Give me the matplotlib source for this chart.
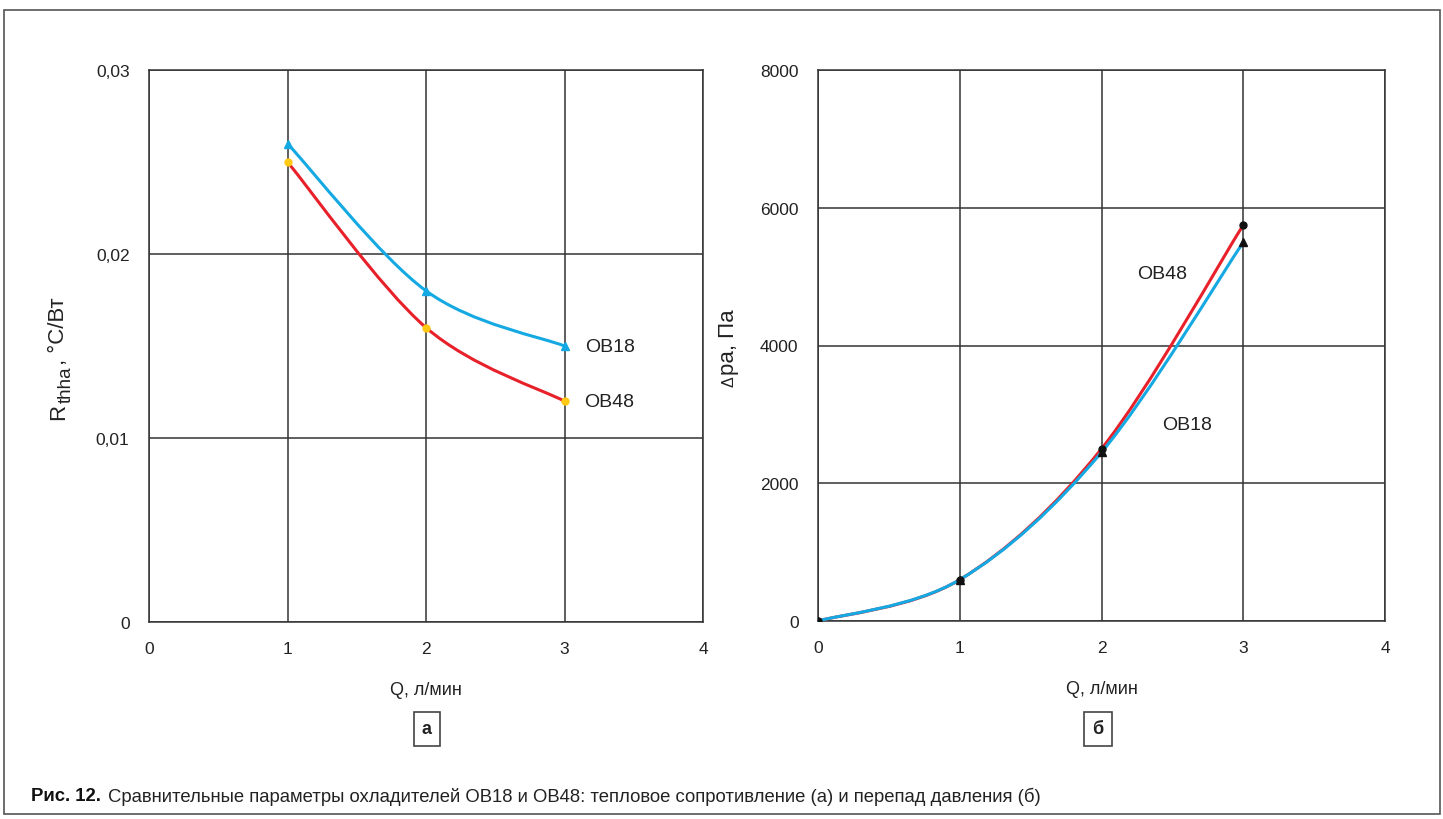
import numpy as np
import matplotlib
matplotlib.use('Agg')
import matplotlib.pyplot as plt
from matplotlib.path import Path
from matplotlib.patches import PathPatch, Rectangle
from matplotlib.transforms import IdentityTransform

plt.rcParams['font.family'] = ['Liberation Sans', 'DejaVu Sans']

# --- data, panel a: thermal resistance ---
q_a = [1, 2, 3]
rth_ob18 = [0.026, 0.018, 0.015]
rth_ob48 = [0.025, 0.016, 0.012]

# --- data, panel b: pressure drop ---
q_b = [0, 1, 2, 3]
dp_ob48 = [0, 600, 2500, 5750]
dp_ob18 = [0, 600, 2450, 5500]

x_ticks = [0, 1, 2, 3, 4]
ya_ticks = [0, 0.01, 0.02, 0.03]
ya_labels = ['0', '0,01', '0,02', '0,03']
yb_ticks = [0, 2000, 4000, 6000, 8000]

BLUE = '#14a9e2'
RED = '#e8202a'
YELLOW = '#ffc914'
GRID = '#333333'
TXT = '#222222'

W, H = 1443, 820


def smooth_path(x, y):
    """Bezier path through the points, Excel-style smoothing (tangent/6)."""
    x = np.asarray(x, float)
    y = np.asarray(y, float)
    n = len(x)
    verts = [(x[0], y[0])]
    codes = [Path.MOVETO]
    for i in range(n - 1):
        i0 = max(i - 1, 0)
        i3 = min(i + 2, n - 1)
        c1 = (x[i] + (x[i + 1] - x[i0]) / 6, y[i] + (y[i + 1] - y[i0]) / 6)
        c2 = (x[i + 1] - (x[i3] - x[i]) / 6, y[i + 1] - (y[i3] - y[i]) / 6)
        verts += [c1, c2, (x[i + 1], y[i + 1])]
        codes += [Path.CURVE4] * 3
    return Path(verts, codes)


def style_axes(ax):
    ax.set_xlim(0, 4)
    ax.set_xticks(x_ticks)
    ax.grid(True, color=GRID, linewidth=1.1)
    ax.set_axisbelow(True)
    ax.tick_params(length=0, labelsize=12.5, pad=14, colors=TXT)
    for s in ax.spines.values():
        s.set_color(GRID)
        s.set_linewidth(1.1)
    ax.set_xlabel('Q, л/мин', fontsize=13, labelpad=18, color=TXT)


def rotated_label(fig, x_base, y_bottom, parts):
    """Vertical label made of pieces (text, size, shift right in px).
    x_base / y_bottom are image pixels (y from top)."""
    renderer = fig.canvas.get_renderer()
    y = H - y_bottom
    for txt, size, shift in parts:
        t = fig.text(x_base + shift, y, txt, transform=IdentityTransform(),
                     rotation=90, rotation_mode='anchor', ha='left',
                     va='baseline', fontsize=size, color=TXT)
        y = t.get_window_extent(renderer).y1 + 1


fig = plt.figure(figsize=(W / 100, H / 100), dpi=100)

# outer frame
fig.patches.append(Rectangle((4 / W, 5 / H), 1436 / W, 804 / H,
                             transform=fig.transFigure, fill=False,
                             edgecolor='#555555', linewidth=1.2))

# ---- panel a ----
ax1 = fig.add_axes([149 / W, 1 - 623 / H, 554 / W, 552 / H])
ax1.add_patch(PathPatch(smooth_path(q_a, rth_ob18), fill=False,
                        edgecolor=BLUE, linewidth=2.2, zorder=3))
ax1.add_patch(PathPatch(smooth_path(q_a, rth_ob48), fill=False,
                        edgecolor=RED, linewidth=2.2, zorder=3))
ax1.plot(q_a, rth_ob18, linestyle='none', marker='^', color=BLUE,
         markersize=6, zorder=4)
ax1.plot(q_a, rth_ob48, linestyle='none', marker='o', color=YELLOW,
         markersize=5, zorder=4)
ax1.set_ylim(0, 0.03)
ax1.set_yticks(ya_ticks)
ax1.set_yticklabels(ya_labels)
style_axes(ax1)
ax1.text(3.15, rth_ob18[-1], 'OB18', fontsize=14, va='center', ha='left',
         color=TXT)
ax1.text(3.14, rth_ob48[-1], 'OB48', fontsize=14, va='center', ha='left',
         color=TXT)

# ---- panel b ----
ax2 = fig.add_axes([818 / W, 1 - 622 / H, 567 / W, 551 / H])
ax2.add_patch(PathPatch(smooth_path(q_b, dp_ob48), fill=False,
                        edgecolor=RED, linewidth=2.2, zorder=3))
ax2.add_patch(PathPatch(smooth_path(q_b, dp_ob18), fill=False,
                        edgecolor=BLUE, linewidth=2.2, zorder=3))
ax2.plot(q_b, dp_ob48, linestyle='none', marker='o', color='#111111',
         markersize=5, zorder=4)
ax2.plot(q_b, dp_ob18, linestyle='none', marker='^', color='#111111',
         markersize=5.5, zorder=4)
ax2.set_ylim(0, 8000)
ax2.set_yticks(yb_ticks)
style_axes(ax2)
ax2.text(2.25, 5050, 'OB48', fontsize=14, va='center', ha='left', color=TXT)
ax2.text(2.43, 2860, 'OB18', fontsize=14, va='center', ha='left', color=TXT)

fig.canvas.draw()
rotated_label(fig, 64, 420, [('R', 16, 0), ('thha', 13.5, 7),
                             (', °C/Вт', 16, 0)])
rotated_label(fig, 734, 387, [('Δ', 11.5, -1), ('pa, Па', 16, 0)])

# panel letters in boxes
for xc, letter in [(427, 'а'), (1098, 'б')]:
    fig.text(xc / W, 1 - 730 / H, letter, ha='center', va='center',
             fontsize=13, fontweight='bold', color=TXT,
             bbox=dict(boxstyle='square,pad=0.45', facecolor='white',
                       edgecolor='#444444', linewidth=1.2))

# caption
t = fig.text(31 / W, 1 - 797 / H, 'Рис. 12.', ha='left', va='center',
             fontsize=13.3, fontweight='bold', color='#111111')
fig.canvas.draw()
bb = t.get_window_extent()
fig.text((bb.x1 + 7) / W, 1 - 797 / H,
         'Сравнительные параметры охладителей OB18 и OB48: тепловое '
         'сопротивление (а) и перепад давления (б)',
         ha='left', va='center', fontsize=13.3, color=TXT)

fig.savefig('out.png', dpi=100)
